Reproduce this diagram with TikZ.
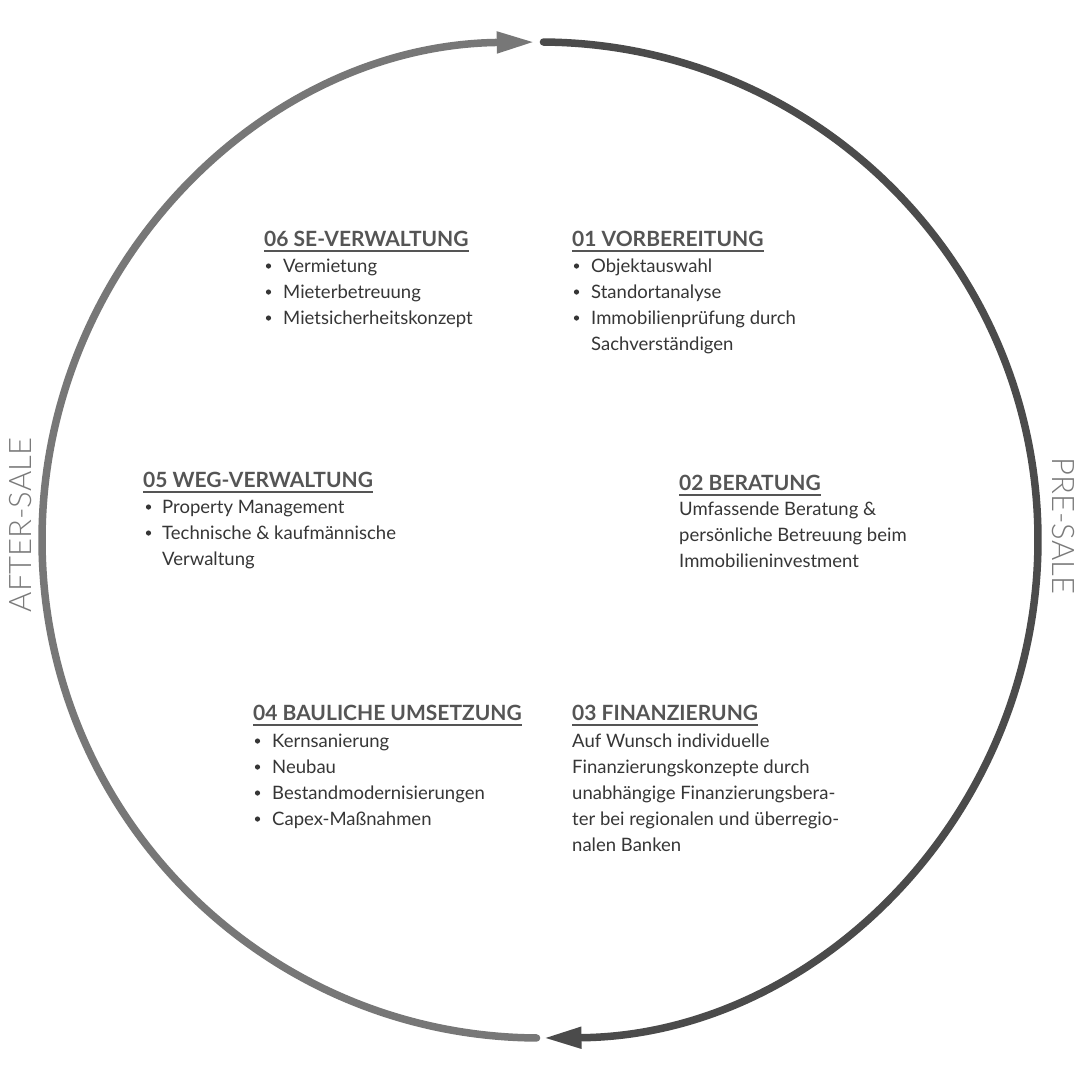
\documentclass[tikz,border=0pt]{standalone}
\usepackage{fontspec}
\setmainfont{Lato}
\newfontfamily\lightfont{Lato Light}
\usetikzlibrary{arrows.meta}
\definecolor{titlec}{HTML}{555555}
\definecolor{bodyc}{HTML}{363636}
\definecolor{arcL}{HTML}{777777}
\definecolor{arcR}{HTML}{4B4B4B}
\definecolor{sidec}{HTML}{7A7A7A}
\tikzset{
  ttl/.style={anchor=base west, inner sep=0pt, text=titlec, font=\fontsize{21}{26}\selectfont\bfseries},
  txt/.style={anchor=base west, inner sep=0pt, text=bodyc, font=\fontsize{18.5}{25.5}\selectfont},
  uline/.style={draw=titlec, line width=1.7pt},
  bul/.style={fill=bodyc},
  side/.style={inner sep=0pt, text=sidec, font=\lightfont\fontsize{31}{32}\selectfont},
  ring/.style={line width=7.5pt, line cap=round},
  tip/.style={-{Triangle[length=38pt,width=20pt]}}
}
\begin{document}
\begin{tikzpicture}[x=1pt,y=-1pt]
\fill[white] (0,0) rectangle (1080,1080);
\useasboundingbox (0,0) rectangle (1080,1080);
\coordinate (c) at (540,540);
% rings
\draw[ring, arcL, tip] ([shift={(90.4:498)}]c) arc[start angle=90.4, end angle=269.4, radius=498];
\draw[ring, arcR, tip] ([shift={(270.4:498)}]c) arc[start angle=270.4, end angle=449.6, radius=498];
% side labels
\node[side, rotate=90] (after) at (21,525) {AFTER-SALE};
\node[side, rotate=-90] (pre) at (1063,526) {PRE-SALE};
% 06
\node[ttl] (t6) at (264,246) {06 SE-VERWALTUNG};
\draw[uline] ([yshift=-5]t6.base west) -- ([yshift=-5]t6.base east);
\node[txt] (a61) at (283,272) {Vermietung};
\node[txt] (a62) at (283,298) {Mieterbetreuung};
\node[txt] (a63) at (283,324) {Mietsicherheitskonzept};
\foreach \y in {272,298,324} \fill[bul] (268.5,\y-6) circle (2.6);
% 01
\node[ttl] (t1) at (572,246) {01 VORBEREITUNG};
\draw[uline] ([yshift=-5]t1.base west) -- ([yshift=-5]t1.base east);
\node[txt] (a11) at (591,272) {Objektauswahl};
\node[txt] (a12) at (591,298) {Standortanalyse};
\node[txt] (a13) at (591,324) {Immobilienprüfung durch};
\node[txt] (a14) at (591,350) {Sachverständigen};
\foreach \y in {272,298,324} \fill[bul] (576.5,\y-6) circle (2.6);
% 05
\node[ttl] (t5) at (143,487) {05 WEG-VERWALTUNG};
\draw[uline] ([yshift=-5]t5.base west) -- ([yshift=-5]t5.base east);
\node[txt] (a51) at (162,513) {Property Management};
\node[txt] (a52) at (162,539) {Technische \& kaufmännische};
\node[txt] (a53) at (162,565) {Verwaltung};
\foreach \y in {513,539} \fill[bul] (148.5,\y-6) circle (2.6);
% 02
\node[ttl] (t2) at (679,490) {02 BERATUNG};
\draw[uline] ([yshift=-5]t2.base west) -- ([yshift=-5]t2.base east);
\node[txt] (a21) at (679,515) {Umfassende Beratung \&};
\node[txt] (a22) at (679,541) {persönliche Betreuung beim};
\node[txt] (a23) at (679,567) {Immobilieninvestment};
% 04
\node[ttl] (t4) at (253,720) {04 BAULICHE UMSETZUNG};
\draw[uline] ([yshift=-5]t4.base west) -- ([yshift=-5]t4.base east);
\node[txt] (a41) at (272,747) {Kernsanierung};
\node[txt] (a42) at (272,773) {Neubau};
\node[txt] (a43) at (272,799) {Bestandmodernisierungen};
\node[txt] (a44) at (272,825) {Capex-Maßnahmen};
\foreach \y in {747,773,799,825} \fill[bul] (257.5,\y-6) circle (2.6);
% 03
\node[ttl] (t3) at (572,720) {03 FINANZIERUNG};
\draw[uline] ([yshift=-5]t3.base west) -- ([yshift=-5]t3.base east);
\node[txt] (a31) at (572,747) {Auf Wunsch individuelle};
\node[txt] (a32) at (572,773) {Finanzierungskonzepte durch};
\node[txt] (a33) at (572,799) {unabhängige Finanzierungsbera-};
\node[txt] (a34) at (572,825) {ter bei regionalen und überregio-};
\node[txt] (a35) at (572,851) {nalen Banken};
\end{tikzpicture}
\end{document}
